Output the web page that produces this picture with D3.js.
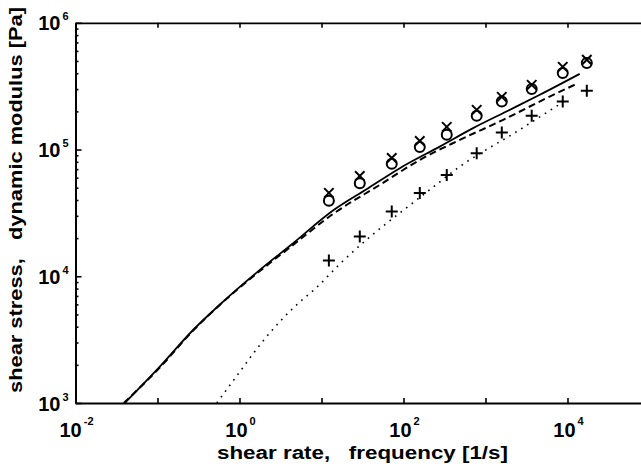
<!DOCTYPE html>
<html>
<head>
<meta charset="utf-8">
<script src="https://cdn.jsdelivr.net/npm/d3@7"></script>
<style>
    body { margin: 0; background: #fff; }
    svg { display: block; }
    text { font-family: "Liberation Sans", Arial, sans-serif; font-weight: bold; fill: #000; }
</style>
</head>
<body>
<div id="chart"></div>
<script>
// measured points, frequency [1/s]
let freq = [12.3, 29.3, 71.9, 158, 337, 781, 1580, 3660, 8750, 17200];
let circleVals = [39400, 54200, 77100, 104500, 130600, 184600, 239000, 300000, 401000, 481000];
let crossVals = [45500, 61900, 85900, 116900, 150900, 205500, 260400, 323900, 449300, 511000];
let plusVals = [13300, 20600, 32400, 45300, 63100, 93600, 136100, 184600, 239000, 290400];

// model curves
let solidX = [0.0399, 0.1067, 0.2717, 0.631, 1.77, 4.51, 13.8, 35.4, 90.2, 277, 706, 1800, 4590, 14100];
let solidY = [1000, 1935, 3767, 6305, 11220, 18240, 33000, 48600, 71300, 105500, 147500, 199500, 270400, 395500];
let dashX = [0.0388, 0.1067, 0.2717, 0.631, 1.77, 4.51, 13.8, 51.4, 158, 486, 1640, 5540, 13460];
let dashY = [1000, 1905, 3730, 6270, 11000, 17660, 31000, 52600, 82800, 119100, 171500, 254200, 334200];
let dotX = [0.529, 1.01, 1.77, 3.10, 5.43, 8.53, 17.1, 36.0, 94.6, 209, 486, 1028, 2075, 5035, 8450];
let dotY = [1000, 1766, 2870, 4385, 6270, 8050, 12680, 19590, 32360, 48100, 73400, 100000, 130600, 188000, 232400];

// axes
let xTicks = [1e-2, 1e-1, 1e0, 1e1, 1e2, 1e3, 1e4, 1e5];
let xLabelExp = [-2, 0, 2, 4];
let yLabelExp = [3, 4, 5, 6];

let width = 641, height = 470;
let svg = d3.select('#chart').append('svg')
    .attr('width', width)
    .attr('height', height);

let xScale = d3.scaleLog().domain([1e-2, 1e5]).range([75.5, 649.5]);
let yScale = d3.scaleLog().domain([1e3, 1e6]).range([403, 22.8]);

let x0 = xScale.range()[0], x1 = xScale.range()[1];
let yB = yScale.range()[0], yT = yScale.range()[1];

// clip for the curves
svg.append('clipPath').attr('id', 'plotClip')
    .append('rect')
    .attr('x', x0).attr('y', yT)
    .attr('width', x1 - x0).attr('height', yB - yT);

// minor ticks for the log y axis
let yMajor = yLabelExp.map(e => Math.pow(10, e));
let yMinor = [];
for (let e = 3; e < 6; e++) {
    for (let m = 2; m < 10; m++) yMinor.push(m * Math.pow(10, e));
}

let axisG = svg.append('g').attr('class', 'axes');

function styleAxis(g) {
    g.select('.domain').attr('stroke', '#000').attr('stroke-width', 1.8);
    g.selectAll('.tick line').attr('stroke', '#000').attr('stroke-width', 1.6);
    g.selectAll('.tick text').remove();
}

axisG.append('g')
    .attr('transform', 'translate(0,' + yB + ')')
    .call(d3.axisBottom(xScale).tickValues(xTicks).tickSizeInner(-5).tickSizeOuter(0).tickFormat(''))
    .call(styleAxis);
axisG.append('g')
    .attr('transform', 'translate(0,' + yT + ')')
    .call(d3.axisTop(xScale).tickValues(xTicks).tickSizeInner(-5).tickSizeOuter(0).tickFormat(''))
    .call(styleAxis);
axisG.append('g')
    .attr('transform', 'translate(' + x0 + ',0)')
    .call(d3.axisLeft(yScale).tickValues(yMajor).tickSizeInner(-6).tickSizeOuter(0).tickFormat(''))
    .call(styleAxis);
axisG.append('g')
    .attr('transform', 'translate(' + x0 + ',0)')
    .call(d3.axisLeft(yScale).tickValues(yMinor).tickSizeInner(-3).tickSizeOuter(0).tickFormat(''))
    .call(styleAxis);

// tick labels: 10 with superscript exponent
let xl = svg.append('g').selectAll('text')
    .data(xLabelExp)
    .enter()
    .append('text')
    .attr('x', d => xScale(Math.pow(10, d)) + 1)
    .attr('y', yB + 34)
    .attr('text-anchor', 'middle')
    .style('font-size', '20px');
xl.append('tspan').text('10');
xl.append('tspan')
    .attr('dx', 2).attr('dy', -12)
    .style('font-size', '11px')
    .text(d => d);

let yl = svg.append('g').selectAll('text')
    .data(yLabelExp)
    .enter()
    .append('text')
    .attr('x', 68.5)
    .attr('y', d => yScale(Math.pow(10, d)) + 7.5)
    .attr('text-anchor', 'end')
    .style('font-size', '20px');
yl.append('tspan').text('10');
yl.append('tspan')
    .attr('dx', 2).attr('dy', -10)
    .style('font-size', '11px')
    .text(d => d);

// axis titles
svg.append('text')
    .attr('x', 362.5)
    .attr('y', 459)
    .attr('text-anchor', 'middle')
    .attr('textLength', 291)
    .attr('lengthAdjust', 'spacingAndGlyphs')
    .style('font-size', '18px')
    .style('white-space', 'pre')
    .text('shear rate,   frequency [1/s]');

svg.append('text')
    .attr('transform', 'translate(21.5,200) rotate(-90)')
    .attr('text-anchor', 'middle')
    .attr('textLength', 386)
    .attr('lengthAdjust', 'spacingAndGlyphs')
    .style('font-size', '18px')
    .style('white-space', 'pre')
    .text('shear stress,   dynamic modulus [Pa]');

// curves
let line = d3.line()
    .x(d => xScale(d[0]))
    .y(d => yScale(d[1]))
    .curve(d3.curveMonotoneX);

let plotG = svg.append('g').attr('clip-path', 'url(#plotClip)');

plotG.append('path')
    .datum(d3.zip(dotX, dotY))
    .attr('d', line)
    .attr('fill', 'none')
    .attr('stroke', '#000')
    .attr('stroke-width', 1.6)
    .attr('stroke-dasharray', '1.6,5.4');

plotG.append('path')
    .datum(d3.zip(dashX, dashY))
    .attr('d', line)
    .attr('fill', 'none')
    .attr('stroke', '#000')
    .attr('stroke-width', 2)
    .attr('stroke-dasharray', '7,4');

plotG.append('path')
    .datum(d3.zip(solidX, solidY))
    .attr('d', line)
    .attr('fill', 'none')
    .attr('stroke', '#000')
    .attr('stroke-width', 1.8);

// markers
let mk = svg.append('g')
    .attr('fill', 'none')
    .attr('stroke', '#000')
    .attr('stroke-width', 2);

mk.selectAll('circle')
    .data(d3.zip(freq, circleVals))
    .enter()
    .append('circle')
    .attr('cx', d => xScale(d[0]))
    .attr('cy', d => yScale(d[1]))
    .attr('r', 5);

mk.selectAll('path.cross')
    .data(d3.zip(freq, crossVals))
    .enter()
    .append('path')
    .attr('class', 'cross')
    .attr('d', d3.symbol().type(d3.symbolX).size(60))
    .attr('transform', d => 'translate(' + xScale(d[0]) + ',' + yScale(d[1]) + ')');

mk.selectAll('path.plus')
    .data(d3.zip(freq, plusVals))
    .enter()
    .append('path')
    .attr('class', 'plus')
    .attr('d', function () {
        let p = d3.path();
        p.moveTo(-6, 0); p.lineTo(6, 0);
        p.moveTo(0, -6); p.lineTo(0, 6);
        return p.toString();
    })
    .attr('transform', d => 'translate(' + xScale(d[0]) + ',' + yScale(d[1]) + ')');
</script>
</body>
</html>
